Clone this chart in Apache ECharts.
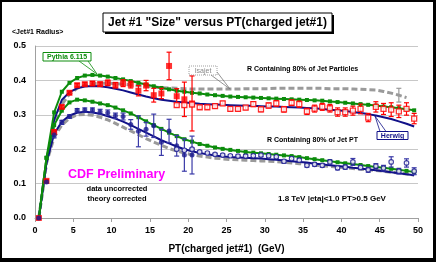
<!DOCTYPE html>
<html>
<head>
<meta charset="utf-8">
<script src="https://cdn.jsdelivr.net/npm/echarts@6/dist/echarts.min.js"></script>
<style>html,body{margin:0;padding:0;background:#fff}#c{width:436px;height:262px}</style>
</head>
<body>
<div id="c"></div>
<script>
// ---------- data ----------
const ptBins = [0.5,1.5,2.5,3.5,4.5,5.5,6.5,7.5,8.5,9.5,10.5,11.5,12.5,13.5,14.5,15.5,16.5,17.5,18.5,19.5,20.5,21.5,22.5,23.5,24.5,25.5,26.5,27.5,28.5,29.5,30.5,31.5,32.5,33.5,34.5,35.5,36.5,37.5,38.5,39.5,40.5,41.5,42.5,43.5,44.5,45.5,46.5,47.5,48.5,49.5];

const pythiaParticles = [0.0,0.175,0.307,0.367,0.393,0.407,0.414,0.416,0.414,0.411,0.407,0.403,0.398,0.393,0.388,0.383,0.378,0.374,0.370,0.367,0.364,0.362,0.359,0.357,0.355,0.353,0.352,0.351,0.350,0.349,0.348,0.347,0.346,0.345,0.344,0.343,0.342,0.341,0.339,0.337,0.335,0.333,0.331,0.329,0.327,0.324,0.322,0.319,0.316,0.313];
const pythiaPT = [0.0,0.175,0.270,0.312,0.336,0.344,0.342,0.338,0.333,0.328,0.321,0.313,0.304,0.293,0.281,0.270,0.259,0.248,0.238,0.229,0.222,0.215,0.210,0.205,0.201,0.198,0.195,0.192,0.190,0.188,0.186,0.184,0.182,0.180,0.177,0.174,0.171,0.168,0.165,0.162,0.159,0.157,0.154,0.151,0.148,0.146,0.143,0.140,0.137,0.134];
const herwigParticles = [0.0,0.165,0.285,0.343,0.366,0.377,0.382,0.384,0.383,0.380,0.376,0.371,0.365,0.359,0.353,0.348,0.344,0.341,0.338,0.336,0.334,0.332,0.331,0.330,0.329,0.328,0.327,0.326,0.326,0.325,0.324,0.324,0.323,0.322,0.321,0.320,0.319,0.317,0.315,0.313,0.311,0.308,0.305,0.302,0.298,0.293,0.288,0.281,0.274,0.266];
const herwigPT = [0.0,0.160,0.245,0.280,0.298,0.306,0.309,0.307,0.303,0.296,0.289,0.280,0.270,0.259,0.248,0.237,0.226,0.217,0.208,0.200,0.194,0.189,0.185,0.182,0.179,0.177,0.176,0.175,0.174,0.173,0.171,0.169,0.167,0.165,0.163,0.161,0.158,0.156,0.153,0.151,0.149,0.146,0.144,0.141,0.139,0.136,0.133,0.130,0.127,0.124];
const isajetParticles = [0.0,0.160,0.270,0.330,0.360,0.377,0.386,0.390,0.392,0.392,0.391,0.389,0.387,0.385,0.383,0.381,0.379,0.378,0.377,0.376,0.375,0.375,0.375,0.375,0.375,0.375,0.375,0.376,0.376,0.376,0.376,0.377,0.377,0.377,0.377,0.377,0.377,0.377,0.376,0.376,0.376,0.375,0.374,0.373,0.372,0.368,0.363,0.357,0.350,null];
const isajetPT = [0.0,0.160,0.235,0.270,0.290,0.300,0.301,0.299,0.293,0.285,0.275,0.264,0.253,0.242,0.231,0.221,0.211,0.202,0.195,0.189,0.184,0.180,0.177,0.174,0.172,0.170,0.169,0.168,0.167,0.166,0.165,0.164,0.162,0.160,0.158,0.156,0.154,0.152,0.150,0.148,0.146,0.144,0.142,0.140,0.138,0.136,0.133,0.131,0.128,0.125];
const isajetErrX = [47.5];
const isajetErrY = [0.357];
const isajetErr = [0.02];

// min-bias data (filled symbols)
const ptMinBias = [0.5,1.5,2.5,3.5,4.5,5.5,6.5,7.5,8.5,9.5,10.5,11.5,12.5,13.5,14.5,15.5,16.5,17.5,18.5,19.5,20.5];
const dataParticlesMB = [0.0,0.108,0.250,0.323,0.364,0.386,0.389,0.391,0.389,0.393,0.386,0.392,0.388,0.370,0.385,0.357,0.362,0.442,0.354,0.345,0.333];
const errParticlesMB = [0.003,0.004,0.006,0.005,0.005,0.005,0.005,0.006,0.006,0.008,0.008,0.010,0.010,0.015,0.015,0.020,0.015,0.040,0.022,0.050,0.080];
const dataPTMB = [0.0,0.105,0.241,0.278,0.295,0.313,0.314,0.314,0.309,0.306,0.297,0.295,0.272,0.252,0.258,0.268,0.220,0.253,0.210,0.183,0.183];
const errPTMB = [0.003,0.004,0.008,0.006,0.005,0.005,0.006,0.006,0.007,0.008,0.008,0.010,0.014,0.045,0.020,0.034,0.038,0.034,0.030,0.047,0.055];

// JET20 data (open symbols)
const ptJet20 = [18.5,19.5,20.5,21.5,22.5,23.5,24.5,25.5,26.5,27.5,28.5,29.5,30.5,31.5,32.5,33.5,34.5,35.5,36.5,37.5,38.5,39.5,40.5,41.5,42.5,43.5,44.5,45.5,46.5,47.5,48.5,49.5];
const dataParticlesJ20 = [0.328,0.328,0.330,0.322,0.322,0.325,0.333,0.317,0.317,0.321,0.331,0.316,0.327,0.333,0.316,0.335,0.331,0.310,0.318,0.323,0.319,0.308,0.308,0.312,0.317,0.292,0.323,0.317,0.315,0.310,0.317,0.289];
const errParticlesJ20 = [0.005,0.005,0.005,0.005,0.005,0.006,0.006,0.006,0.006,0.006,0.007,0.007,0.007,0.008,0.008,0.008,0.009,0.009,0.010,0.010,0.011,0.012,0.012,0.013,0.014,0.012,0.015,0.016,0.020,0.018,0.018,0.015];
const dataPTJ20 = [0.200,0.197,0.200,0.192,0.189,0.185,0.183,0.181,0.180,0.180,0.181,0.183,0.181,0.178,0.165,0.173,0.168,0.153,0.156,0.153,0.163,0.146,0.148,0.163,0.147,0.140,0.151,0.145,0.163,0.136,0.160,0.136];
const errPTJ20 = [0.003,0.003,0.003,0.003,0.003,0.003,0.003,0.003,0.003,0.004,0.004,0.004,0.004,0.004,0.005,0.005,0.005,0.005,0.005,0.005,0.006,0.006,0.006,0.010,0.006,0.007,0.007,0.008,0.015,0.008,0.012,0.010];

const xTicks = [0,5,10,15,20,25,30,35,40,45,50];
const yTicks = [0.0,0.1,0.2,0.3,0.4,0.5];

// ---------- helpers ----------
const F = 'Liberation Sans, Arial, sans-serif';
const RED = '#ff0000', NAVY = '#101088', BLUE = '#1c1c90', GREEN = '#0c8c0c', GRAY = '#9a9a9a';
const zip = (xs, ys) => xs.map((x, i) => [x, ys[i]]);
const zip3 = (xs, ys, es) => xs.map((x, i) => [x, ys[i], es[i]]);

function errSeries(data, color, z) {
  return {
    type: 'custom', z: z, silent: true,
    renderItem: function (params, api) {
      const x = api.value(0), y = api.value(1), e = api.value(2);
      const hi = api.coord([x, y + e]), lo = api.coord([x, y - e]);
      const w = 2.5;
      const st = { stroke: color, lineWidth: 1.2 };
      return { type: 'group', children: [
        { type: 'line', shape: { x1: hi[0], y1: hi[1], x2: lo[0], y2: lo[1] }, style: st },
        { type: 'line', shape: { x1: hi[0] - w, y1: hi[1], x2: hi[0] + w, y2: hi[1] }, style: st },
        { type: 'line', shape: { x1: lo[0] - w, y1: lo[1], x2: lo[0] + w, y2: lo[1] }, style: st }
      ]};
    },
    data: data
  };
}
function theory(name, ys, color, width, dashed, marker, z) {
  return {
    name: name, type: 'line', z: z, data: zip(ptBins, ys), connectNulls: false,
    showSymbol: !!marker, symbol: marker ? 'rect' : 'none', symbolSize: 4,
    itemStyle: { color: color },
    lineStyle: { color: color, width: width, type: dashed ? [6, 3] : 'solid' },
    emphasis: { disabled: true }
  };
}

const chart = echarts.init(document.getElementById('c'), null, { renderer: 'canvas' });
const txt = (x, y, s, size, color, align, extra) => Object.assign({
  type: 'text', x: x, y: y, z: 50,
  style: { text: s, font: 'bold ' + size + 'px ' + F, fill: color, align: align || 'left', verticalAlign: 'middle' }
}, extra || {});

chart.setOption({
  animation: false,
  backgroundColor: '#ffffff',
  grid: { left: 35, right: 18, top: 46, bottom: 44 },
  xAxis: {
    type: 'value', min: xTicks[0], max: xTicks[xTicks.length - 1], interval: 5,
    axisLine: { show: true, lineStyle: { color: '#a0a0a0', width: 1 } },
    axisTick: { show: true, length: 4, inside: false, lineStyle: { color: '#a0a0a0' } },
    axisLabel: { fontFamily: F, fontWeight: 'bold', fontSize: 9, color: '#000', margin: 8 },
    splitLine: { show: false },
    name: 'PT(charged jet#1)  (GeV)', nameLocation: 'middle', nameGap: 26,
    nameTextStyle: { fontFamily: F, fontWeight: 'bold', fontSize: 10, color: '#000' }
  },
  yAxis: {
    type: 'value', min: yTicks[0], max: yTicks[yTicks.length - 1], interval: 0.1,
    axisLine: { show: true, lineStyle: { color: '#a0a0a0', width: 1 } },
    axisTick: { show: false },
    axisLabel: { fontFamily: F, fontWeight: 'bold', fontSize: 9, color: '#000', margin: 9, formatter: v => v.toFixed(1) },
    splitLine: { show: true, lineStyle: { color: '#c8c8c8', width: 1 } }
  },
  series: [
    theory('Isajet particles', isajetParticles, GRAY, 3, true, false, 2),
    theory('Isajet PT', isajetPT, GRAY, 3, true, false, 2),
    errSeries(zip3(isajetErrX, isajetErrY, isajetErr), GRAY, 2),
    theory('Herwig particles', herwigParticles, NAVY, 2, false, false, 3),
    theory('Herwig PT', herwigPT, NAVY, 2, false, false, 3),
    theory('Pythia particles', pythiaParticles, GREEN, 2, false, true, 4),
    theory('Pythia PT', pythiaPT, GREEN, 2, false, true, 4),
    errSeries(zip3(ptMinBias, dataParticlesMB, errParticlesMB), RED, 5),
    errSeries(zip3(ptJet20, dataParticlesJ20, errParticlesJ20), RED, 5),
    errSeries(zip3(ptMinBias, dataPTMB, errPTMB), '#3a3aa8', 5),
    errSeries(zip3(ptJet20, dataPTJ20, errPTJ20), '#3a3aa8', 5),
    { type: 'scatter', z: 6, data: zip(ptMinBias, dataParticlesMB), symbol: 'rect', symbolSize: 6, itemStyle: { color: RED } },
    { type: 'scatter', z: 6, data: zip(ptJet20, dataParticlesJ20), symbol: 'rect', symbolSize: 5, itemStyle: { color: '#fff', borderColor: RED, borderWidth: 1.3 } },
    { type: 'scatter', z: 6, data: zip(ptMinBias, dataPTMB), symbol: 'circle', symbolSize: 5, itemStyle: { color: BLUE } },
    { type: 'scatter', z: 6, data: zip(ptJet20, dataPTJ20), symbol: 'circle', symbolSize: 4.5, itemStyle: { color: '#fff', borderColor: BLUE, borderWidth: 1.2 } }
  ],
  graphic: [
    // frame
    { type: 'rect', shape: { x: 0, y: 0, width: 436, height: 2 }, style: { fill: '#000' }, z: 100 },
    { type: 'rect', shape: { x: 0, y: 0, width: 2, height: 262 }, style: { fill: '#000' }, z: 100 },
    { type: 'rect', shape: { x: 433, y: 0, width: 3, height: 262 }, style: { fill: '#000' }, z: 100 },
    { type: 'rect', shape: { x: 0, y: 258, width: 436, height: 4 }, style: { fill: '#000' }, z: 100 },
    // title box
    { type: 'rect', shape: { x: 105, y: 15, width: 229, height: 19 }, style: { fill: '#000' }, z: 40 },
    { type: 'rect', shape: { x: 103, y: 13, width: 229, height: 19 }, style: { fill: '#fff', stroke: '#000', lineWidth: 1 }, z: 41 },
    txt(217.5, 23, 'Jet #1 "Size" versus PT(charged jet#1)', 12, '#000', 'center'),
    txt(12, 32, '<Jet#1 Radius>', 7, '#000'),
    // Pythia label
    { type: 'polyline', shape: { points: [[79, 61], [97, 74], [88, 61]] }, style: { stroke: GREEN, lineWidth: 0.8, fill: null }, z: 45 },
    { type: 'rect', shape: { x: 43, y: 52.5, width: 48, height: 8.5 }, style: { fill: '#fff', stroke: GREEN, lineWidth: 1 }, z: 46 },
    txt(67, 57, 'Pythia 6.115', 7, GREEN, 'center'),
    // Isajet label
    { type: 'polyline', shape: { points: [[211, 75], [230, 89], [217, 72]] }, style: { stroke: '#777', lineWidth: 0.8, fill: null }, z: 45 },
    { type: 'rect', shape: { x: 189, y: 66, width: 28, height: 9 }, style: { fill: '#fff', stroke: '#888', lineWidth: 0.8, lineDash: [1, 1] }, z: 46 },
    txt(203, 70.8, 'Isajet', 7, '#888', 'center', { style: { text: 'Isajet', font: '7px ' + F, fill: '#888', align: 'center', verticalAlign: 'middle' } }),
    // Herwig label
    { type: 'polyline', shape: { points: [[380, 131.5], [375, 116], [386, 131.5]] }, style: { stroke: NAVY, lineWidth: 0.8, fill: null }, z: 45 },
    { type: 'rect', shape: { x: 377, y: 131.5, width: 31, height: 8 }, style: { fill: '#fff', stroke: NAVY, lineWidth: 1 }, z: 46 },
    txt(392.5, 135.8, 'Herwig', 7, NAVY, 'center'),
    // annotations
    txt(247, 69.5, 'R Containing 80% of Jet Particles', 7, '#000'),
    txt(267, 140, 'R Containing 80% of Jet PT', 7, '#000'),
    txt(68, 175, 'CDF Preliminary', 12.5, '#ff00ff'),
    txt(117, 189, 'data uncorrected', 7.5, '#000', 'center'),
    txt(117, 199, 'theory corrected', 7.5, '#000', 'center'),
    txt(278, 199, '1.8 TeV |eta|<1.0 PT>0.5 GeV', 8, '#000')
  ]
});
</script>
</body>
</html>
